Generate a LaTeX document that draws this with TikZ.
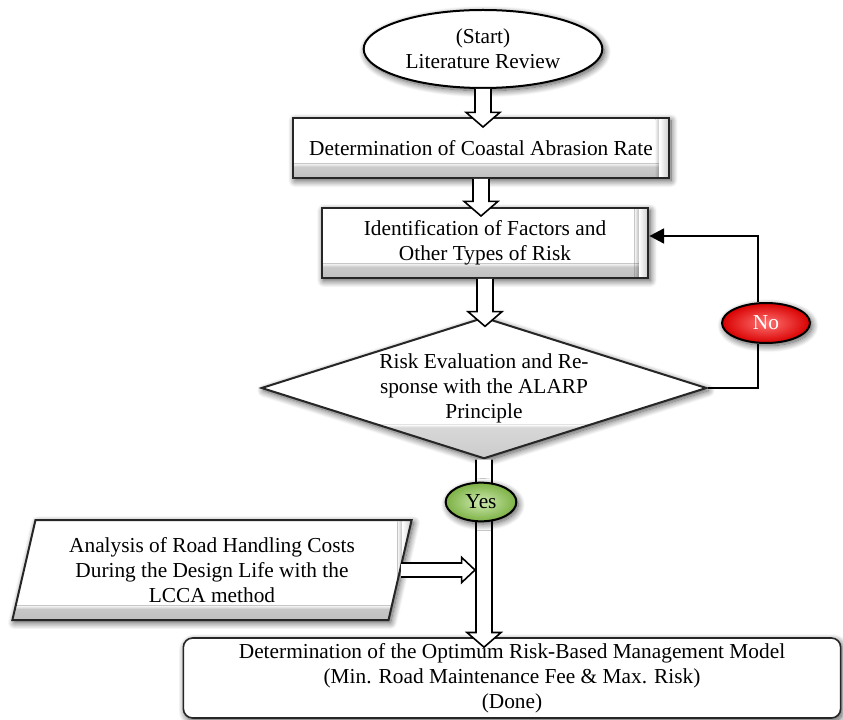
\documentclass[tikz,border=0pt]{standalone}
\usepackage{fontspec}
\setmainfont{Liberation Serif}
\usetikzlibrary{shapes.geometric,calc,arrows.meta,shadows.blur}

\definecolor{yesgreen}{RGB}{146,208,80}
\newcommand{\flowfont}{\fontsize{16pt}{18.75pt}\selectfont}

% hollow block arrow: tail, tip, half shaft, half head, head length
\newcommand{\blockarrow}[5]{%
  \coordinate (ba-base) at ($(#2)!#5!(#1)$);
  \draw[hollow] ($(#1)!#3!90:(#2)$) -- ($(ba-base)!#3!90:(#2)$) -- ($(ba-base)!#4!90:(#2)$) -- (#2)
    -- ($(ba-base)!#4!-90:(#2)$) -- ($(ba-base)!#3!-90:(#2)$) -- ($(#1)!#3!-90:(#2)$);
}

\tikzset{
  shade/.style={blur shadow={shadow xshift=1.5pt,shadow yshift=-2pt,shadow blur radius=5pt,shadow blur steps=12,shadow opacity=70}},
  bevel/.style={path picture={
    \shade[top color=white,bottom color=gray!50] ($(path picture bounding box.south west)+(0,8pt)$) rectangle (path picture bounding box.south east);
    \shade[left color=white,right color=gray!40] ($(path picture bounding box.north east)+(-7pt,0)$) rectangle (path picture bounding box.south east);}},
  box/.style={draw=black!85,line width=1.5pt,fill=white,align=center,inner sep=0pt,shade,bevel},
  ball/.style={ellipse,draw=black,line width=1.5pt,inner sep=0pt,shade},
  hollow/.style={draw=black,line width=1.2pt,fill=white,line join=miter},
  loopline/.style={line width=2pt,line join=miter}
}

\begin{document}
\begin{tikzpicture}[x=0.75pt,y=-0.75pt,font=\flowfont]
 \useasboundingbox (0,0) rectangle (843,720);
 \node[ellipse,draw=black,line width=1.5pt,fill=white,shade,align=center,inner sep=0pt,
   minimum width=179pt,minimum height=58.5pt] (start) at (483,49) {(Start)\\Literature Review};
 \node[box,minimum width=282pt,minimum height=45pt] (coastal) at (481,148) {Determination of Coastal Abrasion Rate};
 \node[box,minimum width=245pt,minimum height=52.5pt] (factors) at (485,243) {Identification of Factors and\\Other Types of Risk};
 \node[diamond,draw=black!85,line width=1.5pt,fill=white,shade,align=center,inner sep=0pt,aspect=3.14,
   minimum width=334pt,minimum height=106pt,
   path picture={\shade[top color=white,bottom color=gray!40] ($(path picture bounding box.south west)+(0,22pt)$) rectangle (path picture bounding box.south east);}]
   (risk) at (484,388) {Risk Evaluation and Re-\\sponse with the ALARP\\Principle};
 \node[trapezium,trapezium left angle=74,trapezium right angle=106,trapezium stretches=true,
   box,minimum width=300pt,minimum height=75pt] (lcca) at (212,570)
   {Analysis of Road Handling Costs\\During the Design Life with the\\LCCA method};
 \node[draw=black!85,line width=1.2pt,fill=white,shade,rounded corners=7pt,align=center,inner sep=0pt,
   minimum width=493pt,minimum height=60pt] (final) at (512,678)
   {Determination of the Optimum Risk-Based Management Model\\(Min. Road Maintenance Fee \& Max. Risk)\\(Done)};

 % main flow
 \coordinate (tip1) at ($(start.south |- coastal.north)+(0,10)$);
 \coordinate (tip2) at ($(coastal.south |- factors.north)+(0,9)$);
 \coordinate (tip3) at ($(factors.south |- risk.north)+(0,10)$);
 \coordinate (tip4) at ($(risk.south |- final.north)+(0,10)$);
 \blockarrow{start.south}{tip1}{6pt}{12.75pt}{11pt}
 \blockarrow{coastal.south}{tip2}{6pt}{12.75pt}{11pt}
 \blockarrow{factors.south}{tip3}{6pt}{12.75pt}{11pt}
 \blockarrow{risk.south}{tip4}{6pt}{12.75pt}{11pt}
 \coordinate (tip5) at ($(risk.south |- lcca.east)+(-9,0)$);
 \blockarrow{lcca.east}{tip5}{5.25pt}{9.4pt}{10pt}

 \node[ball,inner color=yesgreen!45!white,outer color=yesgreen!85!black,minimum width=53pt,minimum height=29pt] (yes) at (481,502) {Yes};
 \node[ball,inner color=red!55!white,outer color=red!85!black,text=white,minimum width=66pt,minimum height=30pt] (no) at (766,323) {No};

 % feedback loop
 \coordinate (back) at ($(factors.east)+(0,-7)$);
 \draw[loopline] (risk.east) -| ($(no.south)+(-8,0)$);
 \draw[loopline,-{Triangle[length=11pt,width=11pt]}] ($(no.north)+(-8,0)$) |- (back);
\end{tikzpicture}
\end{document}
